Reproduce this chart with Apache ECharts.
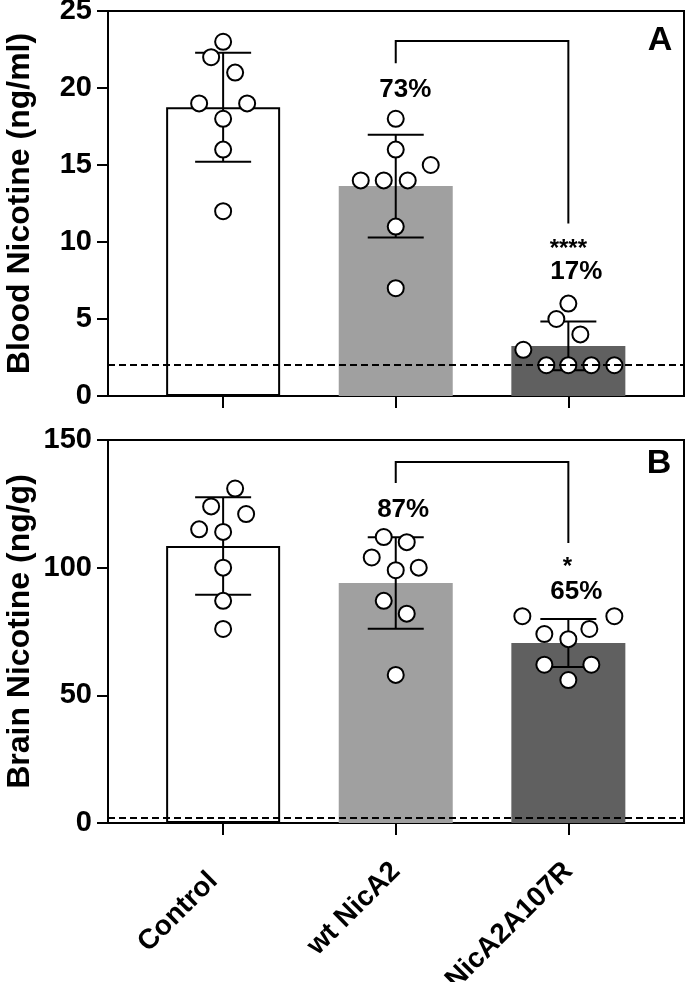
<!DOCTYPE html>
<html><head><meta charset="utf-8">
<script src="https://cdn.jsdelivr.net/npm/echarts@6/dist/echarts.min.js"></script>
<style>html,body{margin:0;padding:0;background:#fff}#c{width:685px;height:982px}</style>
</head><body><div id="c"></div>
<script>
// ---------- data ----------
const categories = ['Control', 'wt NicA2', 'NicA2A107R'];

const bloodMean = [18.75, 13.63, 3.25];
const bloodSD = [3.54, 3.34, 1.58];
const bloodPoints = [
  [23, 22, 21, 19, 19, 18, 16, 12],
  [18, 16, 15, 14, 14, 14, 11, 7],
  [6, 5, 4, 3, 2, 2, 2, 2]
];

const brainMean = [108.5, 94, 70.5];
const brainSD = [19.1, 17.9, 9.4];
const brainPoints = [
  [131, 124, 121, 115, 114, 100, 87, 76],
  [112, 110, 104, 100, 99, 87, 82, 58],
  [81, 81, 76, 74, 72, 62, 62, 56]
];

const limitOfDetection = 2;
const bloodTicks = [0, 25, 5];
const brainTicks = [0, 150, 50];
const bloodPercent = ['73%', '17%'];
const brainPercent = ['87%', '65%'];
const bloodSig = '****';
const brainSig = '*';

// ---------- layout / style ----------
const bloodJitterPx = [
  [0, -12, 12, -24, 24, 0, 0, 0],
  [0, 0, 35, -35, -12, 12, 0, 0],
  [0, -12, 12, -45, -22, 0, 23, 46]
];
const brainJitterPx = [
  [12, -12, 23, -24, 0, 0, 0, 0],
  [-12, 11, -24, 23, 0, -12, 11, 0],
  [-46, 46, 21, -24, 0, -24, 23, 0]
];
const barColors = ['#ffffff', '#a0a0a0', '#606060'];
const FONT = '"Liberation Sans", Arial, Helvetica, sans-serif';

const bloodAnno = {
  bracket: { x1: 2, x2: 3, yTop: 23.05, yLeft: 21.6, yRight: 11.2 },
  texts: [
    { x: 2.055, y: 19.9, t: bloodPercent[0], size: 26 },
    { x: 3.0, y: 9.5, t: bloodSig, size: 24 },
    { x: 3.046, y: 8.05, t: bloodPercent[1], size: 26 }
  ]
};
const brainAnno = {
  bracket: { x1: 2, x2: 3, yTop: 141.4, yLeft: 133.2, yRight: 109.7 },
  texts: [
    { x: 2.043, y: 122.6, t: brainPercent[0], size: 26 },
    { x: 2.994, y: 100, t: brainSig, size: 24 },
    { x: 3.046, y: 90.5, t: brainPercent[1], size: 26 }
  ]
};

const chart = echarts.init(document.getElementById('c'));

const grids = [
  { left: 108, right: 1, top: 11, height: 385, show: true, borderColor: '#000', borderWidth: 2, containLabel: false, outerBoundsMode: 'none' },
  { left: 108, right: 1, top: 440, height: 383, show: true, borderColor: '#000', borderWidth: 2, containLabel: false, outerBoundsMode: 'none' }
];

function xAxis(idx, showLabels) {
  return {
    type: 'value', gridIndex: idx, min: 0.333, max: 3.67,
    splitLine: { show: false },
    axisLine: { show: true, lineStyle: { color: '#000', width: 2 } },
    axisTick: { show: true, customValues: [1, 2, 3], length: 12, lineStyle: { color: '#000', width: 2 } },
    axisLabel: {
      show: showLabels, customValues: [1, 2, 3], rotate: 45, margin: 44,
      formatter: v => {
        const i = Math.round(v) - 1;
        return i === 0 ? '{c|' + categories[0] + '}' : (categories[i] || '');
      },
      rich: { c: { padding: [0, 14, 0, 0], fontFamily: FONT, fontWeight: 'bold', fontSize: 28, color: '#000' } },
      fontFamily: FONT, fontWeight: 'bold', fontSize: 28, color: '#000'
    }
  };
}
function yAxis(idx, ticks, name) {
  return {
    type: 'value', gridIndex: idx, min: ticks[0], max: ticks[1], interval: ticks[2],
    name: name, nameLocation: 'middle', nameGap: 72, nameRotate: 90, nameMoveOverlap: false,
    nameTextStyle: { fontFamily: FONT, fontWeight: 'bold', fontSize: 32, color: '#000' },
    splitLine: { show: false },
    axisLine: { show: true, lineStyle: { color: '#000', width: 2 } },
    axisTick: { show: true, length: 11, lineStyle: { color: '#000', width: 2 } },
    axisLabel: { margin: 16, fontFamily: FONT, fontWeight: 'bold', fontSize: 29, color: '#000' }
  };
}

function barSeries(idx, means) {
  return {
    type: 'bar', xAxisIndex: idx, yAxisIndex: idx, barWidth: 114, z: 2, silent: true,
    data: means.map((m, i) => ({
      value: [i + 1, m],
      itemStyle: { color: barColors[i], borderColor: i === 0 ? '#000' : barColors[i], borderWidth: i === 0 ? 2 : 0 }
    }))
  };
}
function lodSeries(idx) {
  return {
    type: 'line', xAxisIndex: idx, yAxisIndex: idx, data: [], z: 1, silent: true,
    markLine: {
      silent: true, symbol: 'none', label: { show: false },
      lineStyle: { color: '#000', type: [7, 4], width: 2, opacity: 1 },
      data: [{ yAxis: limitOfDetection }]
    }
  };
}
function errSeries(idx, means, sds) {
  return {
    type: 'custom', xAxisIndex: idx, yAxisIndex: idx, z: 3, silent: true,
    data: means.map((m, i) => [i + 1, m, sds[i]]),
    renderItem(params, api) {
      const x = api.value(0), m = api.value(1), s = api.value(2);
      const t = api.coord([x, m + s]), b = api.coord([x, m - s]);
      const h = 28, st = { stroke: '#000', lineWidth: 2 };
      return {
        type: 'group', children: [
          { type: 'line', shape: { x1: t[0], y1: t[1], x2: b[0], y2: b[1] }, style: st },
          { type: 'line', shape: { x1: t[0] - h, y1: t[1], x2: t[0] + h, y2: t[1] }, style: st },
          { type: 'line', shape: { x1: b[0] - h, y1: b[1], x2: b[0] + h, y2: b[1] }, style: st }
        ]
      };
    }
  };
}
function dotSeries(idx, points, jit) {
  const data = [];
  points.forEach((arr, g) => arr.forEach((v, k) => {
    data.push({ value: [g + 1, v], symbolOffset: [jit[g][k], 0] });
  }));
  return {
    type: 'scatter', xAxisIndex: idx, yAxisIndex: idx, z: 4, silent: true,
    symbol: 'circle', symbolSize: 16,
    itemStyle: { color: '#fff', borderColor: '#000', borderWidth: 2, opacity: 1 },
    data: data
  };
}
function annoSeries(idx, anno) {
  return {
    type: 'custom', xAxisIndex: idx, yAxisIndex: idx, z: 5, silent: true,
    data: [[anno.bracket.x1, anno.bracket.yTop]],
    renderItem(params, api) {
      const br = anno.bracket;
      const a = api.coord([br.x1, br.yLeft]), b = api.coord([br.x1, br.yTop]);
      const c = api.coord([br.x2, br.yTop]), d = api.coord([br.x2, br.yRight]);
      const children = [{
        type: 'polyline', shape: { points: [a, b, c, d] },
        style: { stroke: '#000', lineWidth: 2, fill: null }
      }];
      anno.texts.forEach(t => {
        const p = api.coord([t.x, t.y]);
        children.push({
          type: 'text', x: p[0], y: p[1],
          style: { text: t.t, font: 'bold ' + t.size + 'px ' + FONT, fill: '#000', align: 'center', verticalAlign: 'middle' }
        });
      });
      return { type: 'group', children: children };
    }
  };
}

chart.setOption({
  animation: false,
  backgroundColor: '#fff',
  grid: grids,
  xAxis: [xAxis(0, false), xAxis(1, true)],
  yAxis: [yAxis(0, bloodTicks, 'Blood Nicotine (ng/ml)'), yAxis(1, brainTicks, 'Brain Nicotine (ng/g)')],
  graphic: [
    { type: 'text', x: 660, y: 41, style: { text: 'A', font: 'bold 34px ' + FONT, fill: '#000', align: 'center', verticalAlign: 'middle' } },
    { type: 'text', x: 659, y: 464, style: { text: 'B', font: 'bold 34px ' + FONT, fill: '#000', align: 'center', verticalAlign: 'middle' } }
  ],
  series: [
    lodSeries(0), barSeries(0, bloodMean), errSeries(0, bloodMean, bloodSD), dotSeries(0, bloodPoints, bloodJitterPx), annoSeries(0, bloodAnno),
    lodSeries(1), barSeries(1, brainMean), errSeries(1, brainMean, brainSD), dotSeries(1, brainPoints, brainJitterPx), annoSeries(1, brainAnno)
  ]
});
</script>
</body></html>
